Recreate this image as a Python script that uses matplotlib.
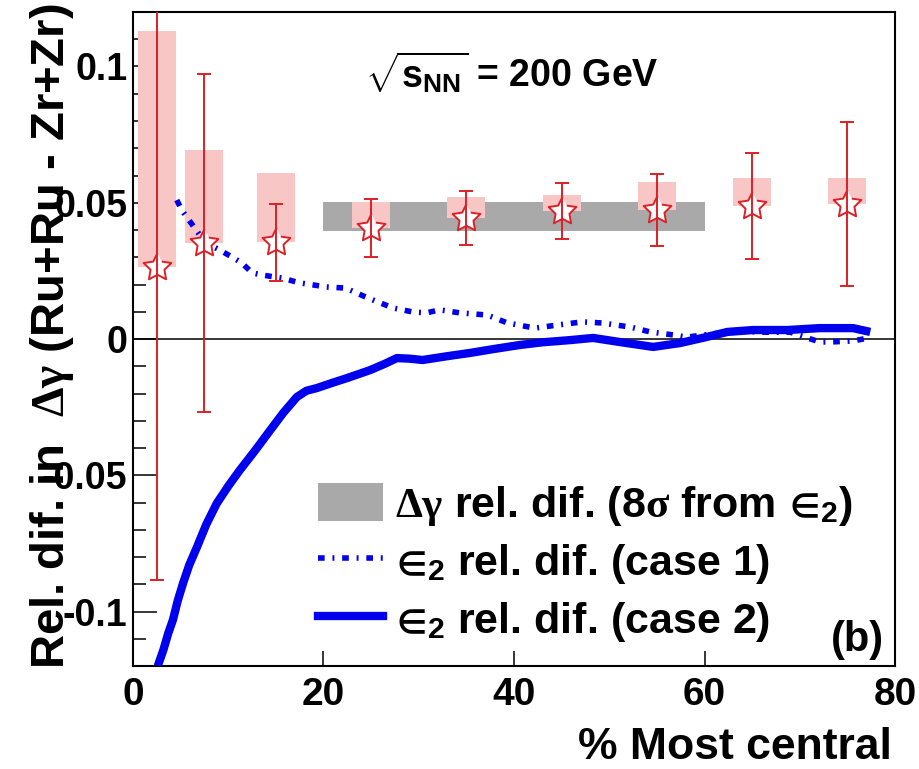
import matplotlib
matplotlib.use('Agg')
import matplotlib.pyplot as plt
import numpy as np
from matplotlib.patches import Patch
from matplotlib.lines import Line2D

plt.rcParams['font.family'] = ['Liberation Sans', 'DejaVu Sans']
plt.rcParams['font.weight'] = 'bold'
plt.rcParams['mathtext.fontset'] = 'custom'
plt.rcParams['mathtext.rm'] = 'Liberation Serif'
plt.rcParams['mathtext.bf'] = 'Liberation Sans:bold'
plt.rcParams['mathtext.it'] = 'Liberation Serif:italic'
plt.rcParams['mathtext.sf'] = 'Liberation Sans:bold'

# ---------------- data ----------------
cent_x = [2.5, 7.5, 15, 25, 35, 45, 55, 65, 75]
dgamma = [0.0265, 0.0353, 0.0355, 0.0407, 0.0445, 0.0470, 0.0475, 0.0487, 0.0495]
stat_err = [0.115, 0.062, 0.0142, 0.0105, 0.0099, 0.0103, 0.0132, 0.0195, 0.030]
sys_top = [0.113, 0.0695, 0.061, 0.0504, 0.052, 0.0528, 0.0577, 0.0592, 0.0592]

band_x = [20, 60]
band_lo = [0.0397, 0.0397]
band_hi = [0.0504, 0.0504]

case1_x = [4.6, 5.1, 7.6, 9.1, 11.4, 12.5, 13.5, 15.6, 17.5, 20.3, 22.3, 24.7, 27.3,
           29.4, 30.8, 32.2, 34.3, 37.2, 39.3, 42.2, 44.5, 47.2, 49.2, 52.2, 54.3,
           56.7, 58.1, 61.6, 63.0, 66.0, 69.0, 72.1, 73.8, 75.6, 77.4]
case1_y = [0.051, 0.0474, 0.0353, 0.0327, 0.028, 0.0243, 0.0235, 0.0224, 0.0206,
           0.0191, 0.0187, 0.015, 0.0114, 0.0099, 0.0096, 0.0107, 0.0096, 0.0088,
           0.0059, 0.004, 0.0051, 0.0063, 0.0059, 0.0044, 0.0026, 0.0015, 0.0007,
           0.0022, 0.003, 0.0025, 0.0025, -0.0011, -0.001, -0.0007, 0.0005]

case2_x = [2.6, 3.2, 3.7, 4.2, 4.7, 5.25, 5.9, 6.7, 7.7, 8.8, 10.0, 11.2, 12.8, 14.4,
           15.8, 17.2, 18.2, 19.3, 21.0, 22.5, 24.9, 26.5, 27.7, 29.0, 30.4, 33.0,
           35.4, 38.0, 40.6, 43.0, 45.9, 48.3, 51.1, 54.6, 57.4, 59.8, 62.4, 65.1,
           68.7, 72.1, 75.6, 77.4]
case2_y = [-0.12, -0.114, -0.108, -0.103, -0.096, -0.0897, -0.083, -0.0765, -0.068,
           -0.0603, -0.054, -0.0482, -0.041, -0.0335, -0.027, -0.0213, -0.019, -0.018,
           -0.016, -0.0143, -0.0114, -0.009, -0.007, -0.0072, -0.0077, -0.0063,
           -0.0051, -0.0036, -0.0022, -0.0012, -0.0004, 0.0004, -0.0011, -0.0029,
           -0.0015, 0.0004, 0.0026, 0.0033, 0.0033, 0.004, 0.004, 0.0026]

xticks = [0, 20, 40, 60, 80]
xticklabels = ['0', '20', '40', '60', '80']
yticks = [-0.1, -0.05, 0, 0.05, 0.1]
yticklabels = ['-0.1', '-0.05', '0', '0.05', '0.1']

legend_labels = [r'$\mathrm{\Delta\gamma}$ rel. dif. (8$\mathrm{\sigma}$ from $∈_{\mathbf{2}}$)',
                 r'$∈_{\mathbf{2}}$ rel. dif. (case 1)',
                 r'$∈_{\mathbf{2}}$ rel. dif. (case 2)']

# ---------------- styles ----------------
RED = '#dd1f26'
PINK = '#f9c6c6'
GREY = '#a9a9a9'
BLUE = '#0000ee'
case1_ls = (0, (1.2, 1.4, 0.35, 1.4))

ang = np.pi / 2 + np.arange(10) * np.pi / 5
rad = np.array([1.0, 0.5] * 5)
star = list(zip(rad * np.cos(ang), rad * np.sin(ang)))

fig = plt.figure(figsize=(9.19, 7.69), dpi=100)
ax = fig.add_axes([0.1447, 0.1339, 0.8292, 0.8505])
ax.set_xlim(0, 80)
ax.set_ylim(-0.12, 0.12)

ax.fill_between(band_x, band_lo, band_hi, color=GREY, lw=0, zorder=1)
heights = np.array(sys_top) - np.array(dgamma)
ax.bar(cent_x, heights, bottom=dgamma, width=4, color=PINK, lw=0, zorder=2)
ax.axhline(0, color='black', lw=1.1, zorder=3)
ax.plot(case1_x, case1_y, color=BLUE, lw=4, ls=case1_ls, zorder=4)
ax.plot(case2_x, case2_y, color=BLUE, lw=6, solid_capstyle='butt',
        solid_joinstyle='round', zorder=4)
ax.plot(cent_x, dgamma, ls='none', marker=star, ms=21, mfc='white', mec=RED,
        mew=1.4, zorder=6)
ax.errorbar(cent_x, dgamma, yerr=stat_err, fmt='none', ecolor=RED, elinewidth=1.4,
            capsize=5, capthick=1.4, zorder=7)

ax.set_xticks(xticks)
ax.set_xticklabels(xticklabels)
ax.set_yticks(yticks)
ax.set_yticklabels(yticklabels)
ax.set_yticks(np.arange(-0.12, 0.1201, 0.01), minor=True)
ax.tick_params(axis='both', which='both', direction='in', top=False, right=False)
ax.tick_params(axis='y', which='major', length=17, width=1.1, pad=4, labelsize=27)
ax.tick_params(axis='y', which='minor', length=9, width=1.1)
ax.tick_params(axis='x', which='major', length=11, width=1.1, pad=8, labelsize=28)
for s in ax.spines.values():
    s.set_linewidth(1.5)

ax.text(24.4, 0.0922, r'$\sqrt{\mathbf{s}_{\mathbf{NN}}}$ = 200 GeV', fontsize=27,
        ha='left', va='baseline')
ax.text(78.8, -0.1145, '(b)', fontsize=30, ha='right', va='baseline')

fig.text(52 / 919, 1 - 336 / 769, r'Rel. dif. in  $\mathrm{\Delta\gamma}$ (Ru+Ru - Zr+Zr)',
         rotation=90, fontsize=34, ha='center', va='center')
fig.text(892 / 919, 1 - 759 / 769, '% Most central', fontsize=32, ha='right',
         va='baseline')

handles = [Patch(facecolor=GREY, edgecolor='none'),
           Line2D([], [], color=BLUE, lw=4, ls=case1_ls),
           Line2D([], [], color=BLUE, lw=6)]
ax.legend(handles, legend_labels, loc='upper left', bbox_to_anchor=(0.243, 0.28),
          frameon=False, fontsize=31, handlelength=1.5, handleheight=1.0,
          handletextpad=0.28, labelspacing=0.3, borderpad=0, borderaxespad=0)

fig.savefig('out.png', dpi=100)
